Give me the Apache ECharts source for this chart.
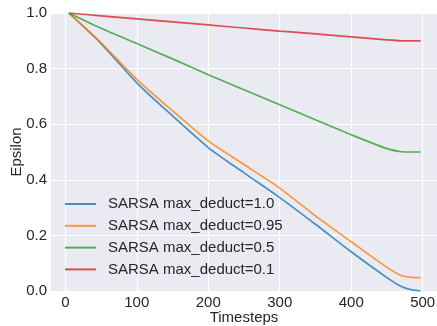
<!DOCTYPE html>
<html>
<head>
<meta charset="utf-8">
<script src="https://cdn.jsdelivr.net/npm/echarts@6/dist/echarts.min.js"></script>
<style>
  html, body { margin: 0; padding: 0; background: #fff; }
  #chart { width: 437px; height: 326px; }
</style>
</head>
<body>
<div id="chart"></div>
<script>
// data
var steps = [5, 50, 100, 150, 200, 250, 300, 350, 400, 450, 470, 485, 497];
var eps10 = [1.0, 0.89, 0.749, 0.63, 0.516, 0.425, 0.336, 0.24, 0.141, 0.048, 0.016, 0.004, 0.0];
var eps095 = [1.0, 0.893, 0.761, 0.648, 0.54, 0.455, 0.37, 0.27, 0.177, 0.085, 0.056, 0.049, 0.048];
var eps05 = [1.0, 0.945, 0.89, 0.835, 0.778, 0.724, 0.67, 0.616, 0.562, 0.512, 0.501, 0.5, 0.5];
var eps01 = [1.0, 0.99, 0.979, 0.968, 0.957, 0.946, 0.935, 0.925, 0.914, 0.903, 0.9, 0.9, 0.9];
var names = ['SARSA max_deduct=1.0', 'SARSA max_deduct=0.95', 'SARSA max_deduct=0.5', 'SARSA max_deduct=0.1'];
var colors = ['#1f77b4', '#ff7f0e', '#2ca02c', '#d62728'];
var xTicks = [0, 100, 200, 300, 400, 500];

var chartDom = document.getElementById('chart');
var myChart = echarts.init(chartDom);

function pairs(ys) {
    return steps.map(function (s, i) { return [s, ys[i]]; });
}

var allData = [eps10, eps095, eps05, eps01];
var seriesList = allData.map(function (ys, i) {
    return {
        name: names[i],
        type: 'line',
        data: pairs(ys),
        symbol: 'none',
        smooth: 0.25,
        lineStyle: { color: colors[i], width: 1.7, opacity: 0.8 },
        itemStyle: { color: colors[i], opacity: 0.8 },
        z: 3 + i
    };
});

var font = 'Liberation Sans, Arial, sans-serif';

var option = {
    animation: false,
    backgroundColor: '#ffffff',
    textStyle: { fontFamily: font },
    grid: {
        left: 51, right: 0, top: 13, bottom: 35,
        show: true,
        backgroundColor: '#EAEAF2',
        borderWidth: 0,
        outerBoundsMode: 'none'
    },
    legend: {
        orient: 'vertical',
        left: 65,
        top: 195,
        padding: 0,
        icon: 'rect',
        itemWidth: 31,
        itemHeight: 2,
        itemGap: 3.8,
        textStyle: {
            fontFamily: font,
            fontSize: 15,
            color: '#262626',
            lineHeight: 18,
            padding: [0, 0, 0, 7]
        },
        data: names
    },
    xAxis: {
        type: 'value',
        min: -20,
        max: 520,
        name: 'Timesteps',
        nameLocation: 'middle',
        nameGap: 19,
        nameMoveOverlap: false,
        nameTextStyle: { fontFamily: font, fontSize: 15, color: '#262626' },
        axisLine: { show: false },
        axisTick: { show: false, customValues: xTicks },
        axisLabel: {
            customValues: xTicks,
            fontFamily: font,
            fontSize: 15,
            color: '#262626',
            margin: 4
        },
        splitLine: { show: true, lineStyle: { color: '#ffffff', width: 1.2 } }
    },
    yAxis: {
        type: 'value',
        min: 0,
        max: 1,
        interval: 0.2,
        name: 'Epsilon',
        nameLocation: 'middle',
        nameGap: 27,
        nameMoveOverlap: false,
        nameTextStyle: { fontFamily: font, fontSize: 15, color: '#262626' },
        axisLine: { show: false },
        axisTick: { show: false },
        axisLabel: {
            fontFamily: font,
            fontSize: 15,
            color: '#262626',
            margin: 4,
            formatter: function (v) { return v.toFixed(1); }
        },
        splitLine: { show: true, lineStyle: { color: '#ffffff', width: 1.2 } }
    },
    series: seriesList
};

myChart.setOption(option);
</script>
</body>
</html>
